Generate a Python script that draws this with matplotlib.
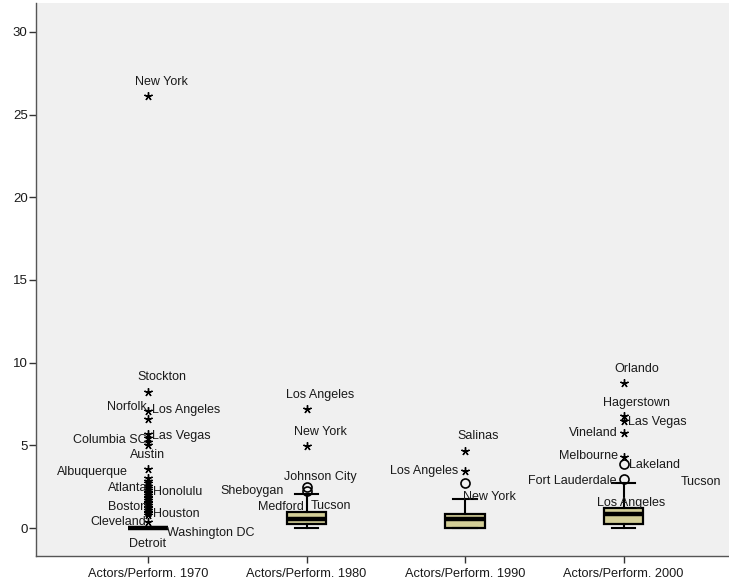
import matplotlib
matplotlib.use("Agg")
import matplotlib.pyplot as plt

plt.rcParams['font.family'] = ['Liberation Sans', 'DejaVu Sans']

categories = ["Actors/Perform. 1970", "Actors/Perform. 1980",
              "Actors/Perform. 1990", "Actors/Perform. 2000"]
# box statistics: lower whisker, Q1, median, Q3, upper whisker
whislo = [0.0, 0.0, 0.0, 0.0]
q1 = [0.0, 0.24, 0.0, 0.25]
med = [0.0, 0.54, 0.55, 0.85]
q3 = [0.0, 0.97, 0.85, 1.2]
whishi = [0.0, 2.06, 1.75, 2.7]

# extreme values (stars) and outliers (circles)
stars_1970 = [26.1, 8.2, 7.1, 6.6, 5.7, 5.45, 5.2, 5.0, 3.6, 3.0, 2.85, 2.7,
              2.55, 2.45, 2.3, 2.2, 2.1, 2.0, 1.9, 1.8, 1.7, 1.6, 1.5, 1.4,
              1.3, 1.2, 1.1, 1.0, 0.9, 0.8, 0.35]
stars_1980 = [7.2, 4.96]
stars_1990 = [4.66, 3.45]
stars_2000 = [8.77, 6.78, 6.47, 5.75, 4.3]
circles_1970 = []
circles_1980 = [2.5, 2.22]
circles_1990 = [2.72]
circles_2000 = [3.87, 2.96]

# case labels: (group index, text, value anchored to, placement, dx px, dy px)
labels = [
    (0, "New York", 26.1, "above", 13, 14),
    (0, "Stockton", 8.2, "above", 14, 15),
    (0, "Norfolk", 7.1, "left", -1, 4),
    (0, "Los Angeles", 7.1, "right", 4, 1),
    (0, "Columbia SC", 5.45, "left", -1, -2),
    (0, "Las Vegas", 5.7, "right", 4, -2),
    (0, "Austin", 3.6, "above", -1, 14),
    (0, "Albuquerque", 3.6, "left", -20, -3),
    (0, "Atlanta", 2.45, "left", -1, 0),
    (0, "Honolulu", 2.15, "right", 5, 0),
    (0, "Boston", 1.25, "left", -1, 0),
    (0, "Houston", 0.85, "right", 5, 0),
    (0, "Cleveland", 0.35, "left", -2, 0),
    (0, "Washington DC", 0.0, "right", 19, -5),
    (0, "Detroit", 0.0, "below", -1, -16),
    (1, "Los Angeles", 7.2, "above", 14, 14),
    (1, "New York", 4.96, "above", 14, 14),
    (1, "Johnson City", 2.5, "above", 14, 10),
    (1, "Sheboygan", 2.22, "left", -23, 0),
    (1, "Medford", 1.25, "left", -3, 0),
    (1, "Tucson", 1.25, "right", 4, 1),
    (2, "Salinas", 4.66, "above", 13, 15),
    (2, "Los Angeles", 3.45, "left", -7, 0),
    (2, "New York", 1.9, "right", -2, 0),
    (3, "Orlando", 8.77, "above", 13, 14),
    (3, "Hagerstown", 6.78, "above", 13, 13),
    (3, "Las Vegas", 6.47, "right", 4, -1),
    (3, "Vineland", 5.75, "left", -6, 0),
    (3, "Melbourne", 4.3, "left", -6, 1),
    (3, "Lakeland", 3.87, "right", 5, -1),
    (3, "Fort Lauderdale", 2.96, "left", -7, -2),
    (3, "Tucson", 2.8, "right", 57, 0),
    (3, "Los Angeles", 1.5, "above", 8, 0),
]

fig = plt.figure(figsize=(7.29, 5.86), dpi=100)
ax = fig.add_axes([36 / 729, 30 / 586, 1 - 36 / 729, 553 / 586])
ax.set_facecolor("#F0F0F0")

positions = [1, 2, 3, 4]
stats = []
for i in range(4):
    stats.append(dict(whislo=whislo[i], q1=q1[i], med=med[i], q3=q3[i],
                      whishi=whishi[i], fliers=[], label=categories[i]))

ax.bxp(stats, positions=positions, widths=0.25, patch_artist=True,
       showfliers=False, capwidths=0.15,
       boxprops=dict(facecolor="#D3CE97", edgecolor="black", linewidth=1.6),
       medianprops=dict(color="black", linewidth=3.2),
       whiskerprops=dict(color="black", linewidth=1.5),
       capprops=dict(color="black", linewidth=1.5))

star_sets = [stars_1970, stars_1980, stars_1990, stars_2000]
circle_sets = [circles_1970, circles_1980, circles_1990, circles_2000]
for p, s, c in zip(positions, star_sets, circle_sets):
    if s:
        ax.plot([p] * len(s), s, linestyle="none", marker=(5, 2, 0),
                markersize=6, color="black", markeredgewidth=1.0)
    if c:
        ax.plot([p] * len(c), c, linestyle="none", marker="o",
                markersize=6.5, markerfacecolor="none",
                markeredgecolor="black", markeredgewidth=1.2)

for gi, text, val, place, dx, dy in labels:
    if place in ("above", "below"):
        ha, va = "center", "center"
    elif place == "left":
        ha, va = "right", "center"
    else:
        ha, va = "left", "center"
    ax.annotate(text, xy=(positions[gi], val), xytext=(dx * 0.72, dy * 0.72),
                textcoords="offset points", ha=ha, va=va, fontsize=9,
                color="#1a1a1a")

ax.set_xlim(0.293, 4.665)
ax.set_ylim(-1.69, 31.75)
ax.set_xticks(positions)
ax.set_xticklabels(categories, fontsize=9.2)
ax.set_yticks([0, 5, 10, 15, 20, 25, 30])
ax.tick_params(axis="both", direction="out", length=5, width=1,
               color="#333333", labelcolor="#1a1a1a")
ax.tick_params(axis="y", pad=1, labelsize=9.5)
for side in ["top", "right"]:
    ax.spines[side].set_visible(False)
for side in ["left", "bottom"]:
    ax.spines[side].set_color("#555555")
    ax.spines[side].set_linewidth(1.0)

fig.savefig("out.png", dpi=100, facecolor="white")
